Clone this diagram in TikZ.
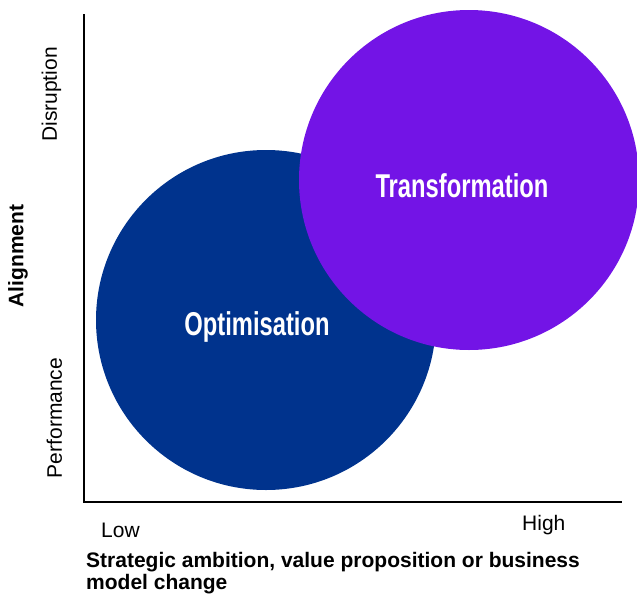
\documentclass[tikz,border=0pt]{standalone}
\usepackage{fontspec}
\setmainfont{Liberation Sans}
\newfontfamily\badgefont[FakeStretch=0.72]{Liberation Sans}
\definecolor{optblue}{RGB}{0,51,141}
\definecolor{transpurple}{RGB}{115,20,230}
\usetikzlibrary{positioning}
\tikzstyle{bubble}=[circle,inner sep=0pt,minimum size=340pt]
\tikzstyle{badge}=[text=white,inner sep=0pt,
  font=\badgefont\bfseries\fontsize{33}{33}\selectfont]
\tikzstyle{axis}=[line width=2.6pt]
\tikzstyle{tick}=[inner sep=0pt,font=\fontsize{21}{22}\selectfont]
\tikzstyle{heading}=[inner sep=0pt,font=\bfseries\fontsize{21}{22}\selectfont]

\begin{document}
\begin{tikzpicture}[x=1pt, y=-1pt]
  \useasboundingbox (0,0) rectangle (637,597);

  % the two circles, purple on top
  \node[bubble, fill=optblue] (opt) at (266,320) {};
  \node[bubble, fill=transpurple] (trans) at (469,180) {};
  \node[badge, anchor=base] (optlbl) at (257,335) {Optimisation};
  \node[badge, anchor=base] (translbl) at (462,197) {Transformation};

  \coordinate (top) at (84,14);
  \coordinate (end) at (622,502);
  \draw[axis] (top) |- (end);

  \node[tick, rotate=90] (disr) at (51.5,94.5) {Disruption};
  \node[tick, rotate=90] (perf) at (54.5,418) {Performance};
  \node[heading, rotate=90] (align) at (18,256) {Alignment};

  \node[tick, anchor=base west] (low) at (101,537) {Low};
  \node[tick, anchor=base west] (high) at (522,530) {High};
  \node[heading, anchor=north west, align=left] (ambition) at (86,552)
    {Strategic ambition, value proposition or business\\model change};
\end{tikzpicture}
\end{document}
